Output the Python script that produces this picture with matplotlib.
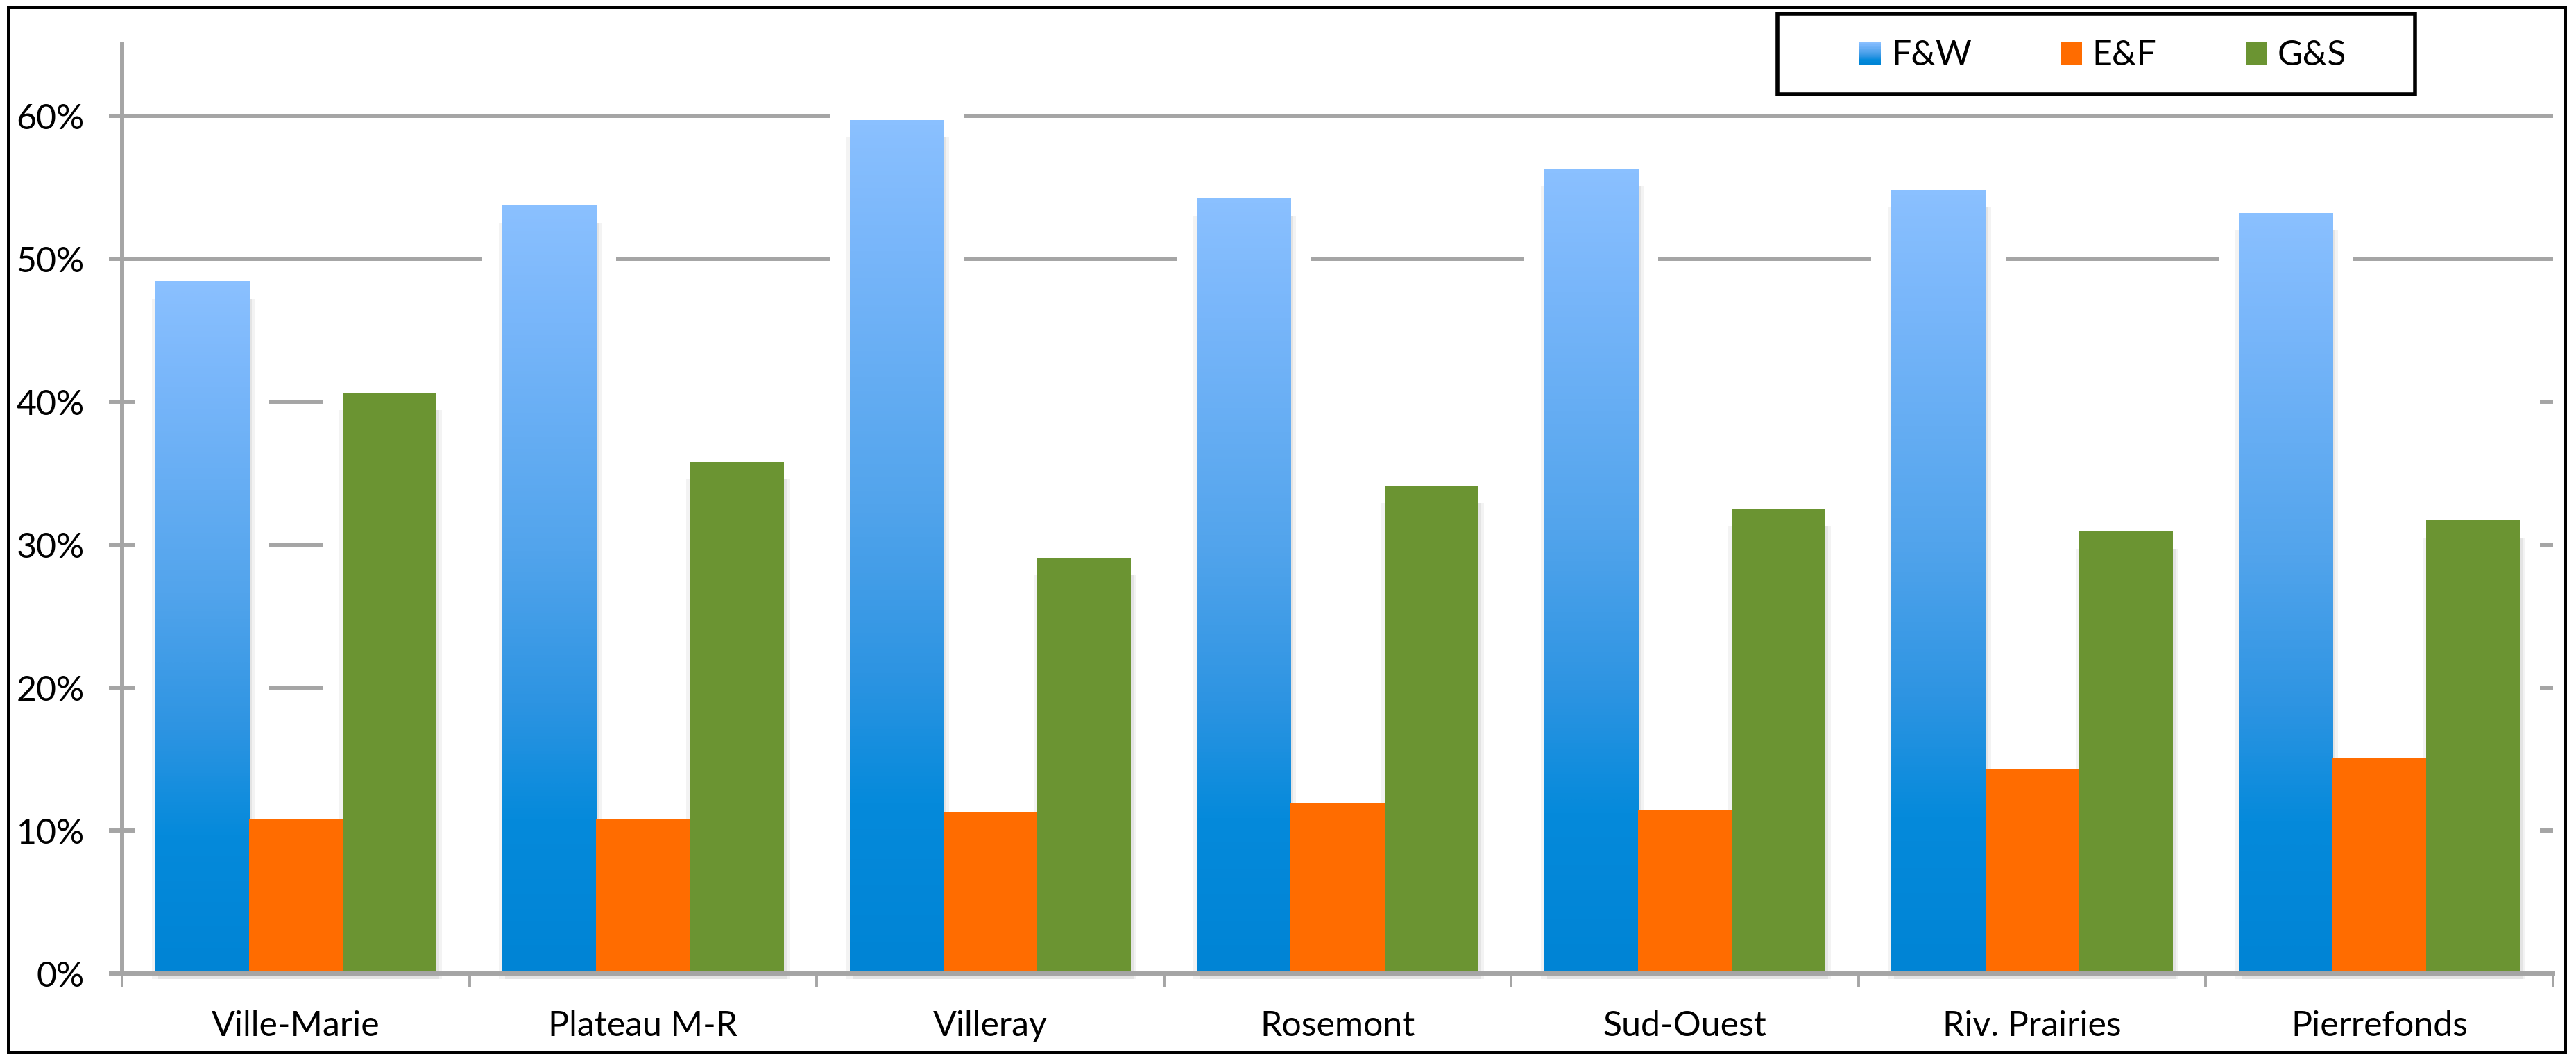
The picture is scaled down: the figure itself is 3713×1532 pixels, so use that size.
import numpy as np
import matplotlib.pyplot as plt
from matplotlib.patches import Rectangle, Patch
from matplotlib.colors import LinearSegmentedColormap
from matplotlib.legend_handler import HandlerBase

plt.rcParams['font.family'] = ['Lato', 'DejaVu Sans']

districts = ['Ville-Marie', 'Plateau M-R', 'Villeray', 'Rosemont', 'Sud-Ouest', 'Riv. Prairies', 'Pierrefonds']
series = ['F&W', 'E&F', 'G&S']
fw = [0.484, 0.537, 0.597, 0.542, 0.563, 0.548, 0.532]
ef = [0.108, 0.108, 0.113, 0.119, 0.114, 0.143, 0.151]
gs = [0.406, 0.358, 0.291, 0.341, 0.325, 0.309, 0.317]
yticks = [0.0, 0.1, 0.2, 0.3, 0.4, 0.5, 0.6]
ytick_labels = ['0%', '10%', '20%', '30%', '40%', '50%', '60%']

GRID = '#A5A5A5'
ORANGE = '#FF6C00'
GREEN = '#6B9432'
blue_cmap = LinearSegmentedColormap.from_list('fw', [
    (0.0, (0/255, 132/255, 213/255)), (0.2, (5/255, 138/255, 219/255)),
    (0.35, (45/255, 148/255, 226/255)), (0.55, (82/255, 164/255, 236/255)),
    (0.85, (120/255, 182/255, 250/255)), (1.0, (138/255, 192/255, 255/255))])

W, H = 3713, 1532
fig = plt.figure(figsize=(W/100, H/100), dpi=100)
ax = fig.add_axes([176/W, 1 - 1403/H, (3680-176)/W, (1403-64)/H])

n = len(districts)
x = np.arange(n)
bw = 0.27
pad = 0.058
offsets = [-bw, 0, bw]
values = [fw, ef, gs]

# gridlines (Excel-style, partly hidden by the bar shadows)
ax.hlines(yticks[1:], -0.5, n - 0.5, color=GRID, lw=4.3, zorder=1)

# white shadow halos around each bar hide the gridlines
for off, vals in zip(offsets, values):
    for xi, v in zip(x, vals):
        ax.add_patch(Rectangle((xi + off - bw/2 - pad, 0), bw + 2*pad, v + 0.01,
                               facecolor='white', edgecolor='none', zorder=1.5))
band_top = max(max(ef), max(gs)) + 0.006
ax.add_patch(Rectangle((-0.5, 0), n - 1 + bw*1.5 + pad + 0.5, band_top,
                       facecolor='white', edgecolor='none', zorder=1.5))
# gridline pieces that stay visible in the first group's E&F column
x_l = x[0] - bw/2 + pad
x_r = x[0] + bw/2 - pad
for yt in yticks[1:]:
    if ef[0] + 0.01 < yt < band_top:
        ax.hlines(yt, x_l, x_r, color=GRID, lw=4.3, zorder=1.6)

# soft bar shadows
for off, vals in zip(offsets, values):
    for xi, v in zip(x, vals):
        ax.add_patch(Rectangle((xi + off - bw/2 - 0.01, -0.004), bw + 0.026, v - 0.008,
                               facecolor='#F3F3F3', edgecolor='none', zorder=2, clip_on=False))
        ax.add_patch(Rectangle((xi + off - bw/2 + 0.008, -0.004), bw, v - 0.008,
                               facecolor='#E4E4E4', edgecolor='none', zorder=2.2, clip_on=False))

# bars
grad = np.linspace(0, 1, 256).reshape(-1, 1)
for xi, v in zip(x, fw):
    ax.imshow(grad, origin='lower', cmap=blue_cmap, aspect='auto', interpolation='bicubic',
              extent=[xi - bw*1.5, xi - bw/2, 0, v], zorder=3)
ax.bar(x, ef, width=bw, color=ORANGE, zorder=3)
ax.bar(x + bw, gs, width=bw, color=GREEN, zorder=3)

ax.set_xlim(-0.5, n - 0.5)
ax.set_ylim(0, 0.65)

for s in ['top', 'right']:
    ax.spines[s].set_visible(False)
for s in ['left', 'bottom']:
    ax.spines[s].set_color(GRID)
    ax.spines[s].set_linewidth(4.3)
    ax.spines[s].set_zorder(4)

ax.set_yticks(yticks)
ax.set_yticklabels(ytick_labels)
ax.tick_params(axis='y', direction='inout', length=28, width=4.3, color=GRID,
               labelsize=36, pad=25)
ax.set_xticks(x)
ax.set_xticklabels(districts)
ax.tick_params(axis='x', which='major', length=0, labelsize=36, pad=38)
ax.set_xticks(np.arange(-0.5, n), minor=True)
ax.tick_params(axis='x', which='minor', direction='out', length=14, width=2.8, color=GRID)


class GradientHandler(HandlerBase):
    def create_artists(self, legend, orig_handle, xdescent, ydescent, width, height, fontsize, trans):
        k = 24
        return [Rectangle((-xdescent, -ydescent + height*i/k), width, height/k * 1.05,
                          facecolor=blue_cmap(i/(k-1)), edgecolor='none', transform=trans)
                for i in range(k)]


handles = [Patch(facecolor=blue_cmap(0.5)), Patch(facecolor=ORANGE), Patch(facecolor=GREEN)]
fig.legend(handles, series, loc='center', bbox_to_anchor=(3031/W, 1 - 80/H), ncol=3,
           frameon=False, fontsize=36, handlelength=0.62, handleheight=0.62,
           handletextpad=0.3, columnspacing=2.56, borderpad=0,
           handler_map={handles[0]: GradientHandler()})
fig.patches.append(Rectangle((2562/W, 1 - 136/H), (3481-2562)/W, (136-20)/H,
                             transform=fig.transFigure, fill=False, edgecolor='black', lw=4))
fig.patches.append(Rectangle((12/W, 1 - 1516/H), (3697-12)/W, (1516-10)/H,
                             transform=fig.transFigure, fill=False, edgecolor='black', lw=3.6))

plt.savefig('out.png', dpi=100)
